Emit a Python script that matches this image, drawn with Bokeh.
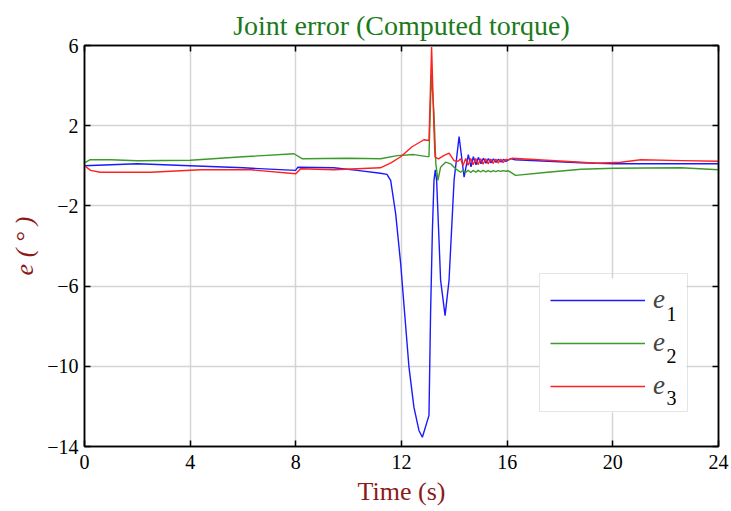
from bokeh.plotting import figure
from bokeh.models import Range1d, FixedTicker, LinearAxis, Legend, LegendItem, Label, BoxAnnotation
from bokeh.embed import file_html
from bokeh.resources import INLINE

# ---- data ----
t_e1 = [0, 2, 4, 6, 7.99, 8.08, 9.44, 10.33, 11.2, 11.45, 11.59, 11.78, 11.97, 12.1, 12.28,
        12.47, 12.66, 12.79, 13.04, 13.1, 13.17, 13.23, 13.28, 13.33, 13.48, 13.65, 13.8,
        13.99, 14.18, 14.37, 14.53, 14.63, 14.72, 14.82, 14.91, 15.01, 15.10, 15.20, 15.29,
        15.39, 15.48, 15.58, 15.67, 15.77, 15.86, 15.96, 16.05, 16.14, 16.3, 18.79, 20.05, 24]
e1 = [0.0, 0.1, 0.0, -0.1, -0.23, -0.07, -0.1, -0.23, -0.37, -0.43, -0.73, -2.4, -4.9, -7.05,
      -10.0, -12.04, -13.2, -13.54, -12.45, -7.4, -3.2, -0.73, -0.2, -0.73, -5.7, -7.47, -5.7,
      -0.73, 1.46, -0.57, 0.56, -0.05, 0.45, 0.05, 0.42, 0.1, 0.38, 0.13, 0.36,
      0.15, 0.34, 0.17, 0.33, 0.19, 0.32, 0.22, 0.3, 0.36, 0.3, 0.15, 0.1, 0.1]

t_e2 = [0, 0.2, 1, 2, 4, 6, 7.93, 8.25, 10, 11.21, 11.84, 12.47, 12.97, 13.04, 13.13, 13.23,
        13.3, 13.38, 13.48, 13.67, 13.86, 14.05, 14.24, 14.33, 14.43, 14.52, 14.62, 14.71,
        14.81, 14.9, 15.0, 15.09, 15.19, 15.28, 15.38, 15.47, 15.57, 15.66, 15.76, 15.85,
        15.95, 16.05, 16.32, 17.53, 18.79, 20.05, 22.58, 24]
e2 = [0.15, 0.3, 0.3, 0.25, 0.28, 0.45, 0.6, 0.35, 0.38, 0.35, 0.51, 0.56, 0.46, 0.46, 4.59, 2.6,
      0.1, -0.73, -0.07, 0.18, 0.1, -0.15, -0.32, -0.22, -0.34, -0.22, -0.33, -0.23,
      -0.32, -0.23, -0.31, -0.23, -0.3, -0.24, -0.3, -0.24, -0.29, -0.24, -0.28, -0.24,
      -0.27, -0.25, -0.48, -0.32, -0.17, -0.12, -0.1, -0.2]

t_e3 = [0, 0.23, 0.6, 2.5, 4.4, 6.3, 8.0, 8.18, 9.44, 11.2, 11.6, 11.97, 12.4, 12.85, 13.04,
        13.14, 13.23, 13.27, 13.4, 13.6, 13.8, 13.99, 14.14, 14.24, 14.33, 14.43, 14.52, 14.62,
        14.71, 14.81, 14.9, 15.0, 15.09, 15.19, 15.28, 15.38, 15.47, 15.57, 15.66, 15.76,
        15.85, 15.95, 16.05, 16.2, 18.8, 19.4, 20.3, 21.06, 22.6, 24]
e3 = [0.0, -0.23, -0.32, -0.32, -0.2, -0.2, -0.4, -0.15, -0.2, -0.1, 0.15, 0.45, 0.95, 1.3, 1.26,
      5.92, 1.76, 0.43, 0.35, 0.51, 0.63, 0.26, 0.23, 0.35, 0.02, 0.36, 0.03, 0.36,
      0.05, 0.36, 0.06, 0.35, 0.08, 0.35, 0.1, 0.34, 0.12, 0.33, 0.14, 0.33,
      0.16, 0.32, 0.3, 0.38, 0.18, 0.13, 0.18, 0.3, 0.26, 0.23]

x_ticks = [0, 4, 8, 12, 16, 20, 24]
y_ticks = [-14, -10, -6, -2, 2, 6]
y_tick_labels = {v: (str(v).replace("-", "\u2212")) for v in y_ticks}
series_names = ["e", "e", "e"]
series_subs = ["1", "2", "3"]
series_colors = ["#1a1aff", "#3a9a2a", "#ff2020"]

TITLE = "Joint error (Computed torque)"
XLABEL = "Time (s)"
YLABEL = "e ( \u00b0 )"

SERIF = "Liberation Serif"
LABEL_RED = "#8b1a1a"

p = figure(width=731, height=511, x_range=Range1d(0, 24), y_range=Range1d(-14, 6),
           output_backend="svg", toolbar_location=None,
           min_border_left=84, min_border_right=13, min_border_top=45, min_border_bottom=65)
p.background_fill_color = "white"
p.border_fill_color = "white"
p.outline_line_color = "black"
p.outline_line_width = 1.5

p.title.text = TITLE
p.title.align = "center"
p.title.text_font = SERIF
p.title.text_font_size = "28px"
p.title.text_font_style = "normal"
p.title.text_color = "#1a7a1a"

for ax in (p.xaxis[0], p.yaxis[0]):
    ax.major_tick_in = 6
    ax.major_tick_out = 0
    ax.minor_tick_line_color = None
    ax.axis_line_width = 1.5
    ax.major_tick_line_width = 1.5
    ax.major_label_text_font = SERIF
    ax.major_label_text_font_size = "20px"
    ax.major_label_text_color = "black"
    ax.axis_label_text_font = SERIF
    ax.axis_label_text_font_size = "26px"
    ax.axis_label_text_color = LABEL_RED
    ax.axis_label_text_font_style = "normal"

p.xaxis.ticker = FixedTicker(ticks=x_ticks)
p.yaxis.ticker = FixedTicker(ticks=y_ticks)
p.yaxis.major_label_overrides = y_tick_labels
p.xaxis.axis_label = XLABEL
p.yaxis.axis_label = YLABEL
p.yaxis.axis_label_text_font_style = "italic"
p.xaxis.major_label_standoff = 8
p.yaxis.major_label_standoff = 6

for loc, ticks in (("above", x_ticks), ("right", y_ticks)):
    ax = LinearAxis(ticker=FixedTicker(ticks=ticks),
                    major_label_overrides={t: "" for t in ticks},
                    major_tick_in=6, major_tick_out=0, minor_tick_line_color=None,
                    axis_line_width=1.5, major_tick_line_width=1.5, major_label_standoff=0)
    p.add_layout(ax, loc)

p.xgrid.grid_line_color = "#d4d4d4"
p.ygrid.grid_line_color = "#d4d4d4"
p.xgrid.grid_line_width = 1.5
p.ygrid.grid_line_width = 1.5

r1 = p.line(t_e1, e1, line_color=series_colors[0], line_width=1.4)
r2 = p.line(t_e2, e2, line_color=series_colors[1], line_width=1.4)
r3 = p.line(t_e3, e3, line_color=series_colors[2], line_width=1.4)

# legend geometry (screen px, relative to the frame's bottom-left)
LEG_X, LEG_Y = 455, 34
PAD, GLYPH_W, ROW_H, SPACING, STANDOFF, LABEL_W = 10, 95, 30, 12, 8, 24
LEG_W = PAD * 2 + GLYPH_W + STANDOFF + LABEL_W
LEG_H = PAD * 2 + ROW_H * 3 + SPACING * 2

# white backing under the (transparent) legend so the grid is hidden
p.add_layout(BoxAnnotation(left=LEG_X, right=LEG_X + LEG_W, bottom=LEG_Y, top=LEG_Y + LEG_H,
                           left_units="screen", right_units="screen",
                           bottom_units="screen", top_units="screen",
                           fill_color="white", fill_alpha=1, line_color=None,
                           level="underlay"))

legend = Legend(items=[LegendItem(label=series_names[0], renderers=[r1]),
                       LegendItem(label=series_names[1], renderers=[r2]),
                       LegendItem(label=series_names[2], renderers=[r3])],
                location=(LEG_X, LEG_Y))
legend.glyph_width = GLYPH_W
legend.glyph_height = ROW_H
legend.label_height = ROW_H
legend.label_width = LABEL_W
legend.spacing = SPACING
legend.padding = PAD
legend.margin = 0
legend.label_standoff = STANDOFF
legend.label_text_font = SERIF
legend.label_text_font_size = "27px"
legend.label_text_font_style = "italic"
legend.border_line_color = "#cccccc"
legend.border_line_width = 1.5
legend.background_fill_alpha = 0
p.add_layout(legend)

# subscripts of the legend labels
for i, s in enumerate(series_subs):
    p.add_layout(Label(x=LEG_X + PAD + GLYPH_W + STANDOFF + 14,
                       y=LEG_Y + LEG_H - PAD - ROW_H + 5 - (ROW_H + SPACING) * i,
                       x_units="screen", y_units="screen", text=s,
                       text_align="left", text_baseline="alphabetic",
                       text_font=SERIF, text_font_size="20px", text_color="black"))

open("out.html", "w").write(file_html(p, INLINE))
